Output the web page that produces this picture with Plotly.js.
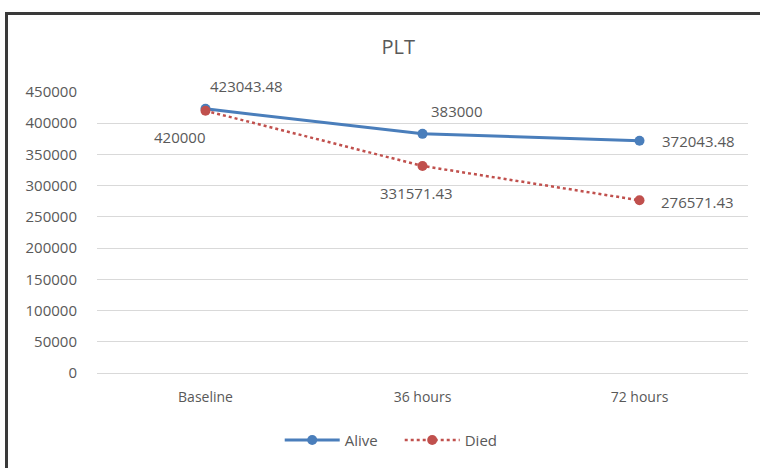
<!DOCTYPE html>
<html>
<head>
<meta charset="utf-8">
<script src="https://cdn.plot.ly/plotly-3.0.1.min.js"></script>
<style>
  html, body { margin: 0; padding: 0; background: #fff; }
  #wrap { position: relative; width: 760px; height: 468px; overflow: hidden; }
  #chart { position: absolute; left: 0; top: 0; width: 760px; height: 468px; }
  #frame { position: absolute; left: 5px; top: 12px; width: 800px; height: 500px;
           border-left: 3px solid #3a3a3a; border-top: 3px solid #3a3a3a; pointer-events: none; }
</style>
</head>
<body>
<div id="wrap">
  <div id="chart"></div>
  <div id="frame"></div>
</div>
<script>
const categories = ["Baseline", "36 hours", "72 hours"];
const aliveValues = [423043.48, 383000, 372043.48];
const diedValues = [420000, 331571.43, 276571.43];
const aliveLabels = ["423043.48", "383000", "372043.48"];
const diedLabels = ["420000", "331571.43", "276571.43"];
const yTickVals = [0, 50000, 100000, 150000, 200000, 250000, 300000, 350000, 400000, 450000];
const yTickText = ["0", "50000", "100000", "150000", "200000", "250000", "300000", "350000", "400000", "450000"];

// label offsets (pixels) for each data label
const aliveShift = [[41, 23], [34, 23], [59, 0]];
const diedShift = [[-26, -26], [-6, -27], [58, -2]];

const FONT = "Open Sans, Noto Sans, sans-serif";
const TXT = "#595959";

const traces = [
  {
    x: categories, y: aliveValues, name: "Alive", type: "scatter", mode: "lines+markers",
    line: { color: "#4a7ebb", width: 3 },
    marker: { color: "#4a7ebb", size: 10 }
  },
  {
    x: categories, y: diedValues, name: "Died", type: "scatter", mode: "lines+markers",
    line: { color: "#c0504d", width: 2.5, dash: "dot" },
    marker: { color: "#c0504d", size: 10 }
  }
];

const annotations = [];
categories.forEach((c, i) => {
  annotations.push({ x: c, y: aliveValues[i], text: aliveLabels[i], showarrow: false,
    xshift: aliveShift[i][0], yshift: aliveShift[i][1], font: { family: FONT, size: 15, color: TXT } });
  annotations.push({ x: c, y: diedValues[i], text: diedLabels[i], showarrow: false,
    xshift: diedShift[i][0], yshift: diedShift[i][1], font: { family: FONT, size: 15, color: TXT } });
});

const layout = {
  width: 760, height: 468,
  margin: { l: 97, r: 12, t: 92, b: 94 },
  paper_bgcolor: "#ffffff", plot_bgcolor: "#ffffff",
  font: { family: FONT, color: TXT, size: 13 },
  title: { text: "PLT", font: { family: FONT, size: 20, color: TXT },
           x: 0.524, xref: "container", xanchor: "center", y: 0.9, yref: "container", yanchor: "middle" },
  showlegend: true,
  legend: { orientation: "h", x: 0.465, xanchor: "center", y: -0.235, yanchor: "middle",
            itemwidth: 55, entrywidth: 50, font: { family: FONT, size: 15, color: TXT } },
  xaxis: { type: "category", range: [-0.5, 2.5], showgrid: false, showline: false, zeroline: false,
           ticks: "", tickfont: { family: FONT, size: 14, color: TXT }, ticklabelstandoff: 14,
           fixedrange: true },
  yaxis: { range: [0, 450000], tickvals: yTickVals, ticktext: yTickText,
           showgrid: true, gridcolor: "#d9d9d9", gridwidth: 1, zeroline: true, zerolinecolor: "#d9d9d9",
           showline: false, ticks: "", tickfont: { family: FONT, size: 15, color: TXT },
           ticklabelstandoff: 19, fixedrange: true },
  annotations: annotations
};

Plotly.newPlot("chart", traces, layout, { displayModeBar: false, staticPlot: true });
</script>
</body>
</html>
